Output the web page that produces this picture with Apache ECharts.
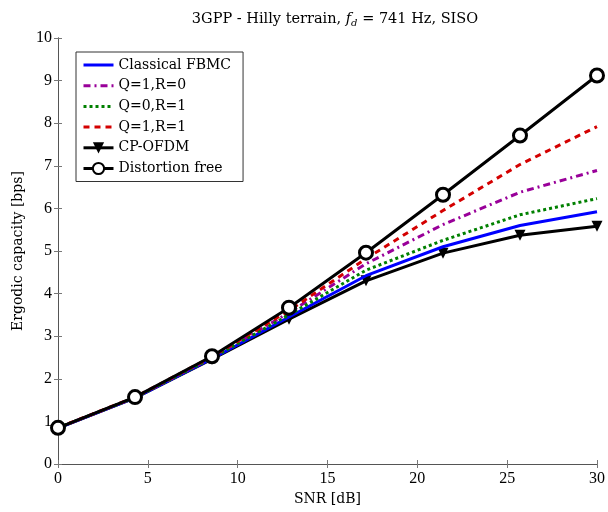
<!DOCTYPE html>
<html>
<head>
<meta charset="utf-8">
<script src="https://cdn.jsdelivr.net/npm/echarts@6/dist/echarts.min.js"></script>
<style>html,body{margin:0;padding:0;background:#fff}#c{width:608px;height:512px}</style>
</head>
<body>
<div id="c"></div>
<script>
var snr = [0, 4.286, 8.571, 12.857, 17.143, 21.429, 25.714, 30];
var fbmc = [0.84, 1.55, 2.47, 3.45, 4.42, 5.10, 5.60, 5.92];
var q1r0 = [0.85, 1.56, 2.50, 3.55, 4.70, 5.62, 6.38, 6.89];
var q0r1 = [0.85, 1.56, 2.49, 3.50, 4.55, 5.25, 5.85, 6.23];
var q1r1 = [0.85, 1.57, 2.52, 3.60, 4.82, 5.95, 7.03, 7.92];
var cpofdm = [0.84, 1.55, 2.46, 3.40, 4.30, 4.95, 5.37, 5.58];
var distFree = [0.85, 1.57, 2.53, 3.67, 4.96, 6.32, 7.71, 9.12];
var names = ['Classical FBMC', 'Q=1,R=0', 'Q=0,R=1', 'Q=1,R=1', 'CP-OFDM', 'Distortion free'];

function pairs(ys) { return snr.map(function (x, i) { return [x, ys[i]]; }); }
var FONT = 'DejaVu Serif';
var NUMFONT = 'Liberation Serif';
var chart = echarts.init(document.getElementById('c'), null, {renderer: 'canvas'});
var axisCommon = {
  axisLine: {show: true, lineStyle: {color: '#555', width: 1}},
  axisTick: {show: true, inside: true, length: 4, lineStyle: {color: '#777'}},
  splitLine: {show: false}
};
var legendData = names.map(function (n, i) {
  return i < 4 ? {name: n, itemStyle: {opacity: 0}, lineStyle: {width: 3}} : {name: n, lineStyle: {width: 3}};
});
chart.setOption({
  animation: false,
  backgroundColor: '#fff',
  title: {
    text: '3GPP - Hilly terrain, {i|f}{s|d} = 741 Hz, SISO',
    left: 330, top: 5, textAlign: 'center',
    textStyle: {fontFamily: FONT, fontSize: 14.5, fontWeight: 'normal', color: '#000',
      rich: {i: {fontFamily: FONT, fontSize: 14.5, fontStyle: 'italic', color: '#000'},
             s: {fontFamily: FONT, fontSize: 10, fontStyle: 'italic', color: '#000', padding: [8, 0, 0, 0]}}}
  },
  grid: {left: 58, right: 7, top: 38, bottom: 48},
  legend: {
    orient: 'vertical', left: 76, top: 52,
    data: legendData,
    itemWidth: 30, itemHeight: 14, itemGap: 6.7,
    padding: [6, 12, 6, 6],
    borderColor: '#333', borderWidth: 1, borderRadius: 0,
    backgroundColor: '#fff',
    textStyle: {fontFamily: FONT, fontSize: 14, color: '#000'}
  },
  xAxis: [
    Object.assign({type: 'value', min: 0, max: 30, interval: 5, position: 'bottom',
      name: 'SNR [dB]', nameLocation: 'middle', nameGap: 26,
      nameTextStyle: {fontFamily: FONT, fontSize: 14, color: '#000'},
      axisLabel: {fontFamily: NUMFONT, fontSize: 16, color: '#000', margin: 7}}, axisCommon),
    Object.assign({type: 'value', min: 0, max: 30, interval: 5, position: 'top',
      axisLabel: {show: false}}, axisCommon)
  ],
  yAxis: [
    Object.assign({type: 'value', min: 0, max: 10, interval: 1, position: 'left',
      name: 'Ergodic capacity [bps]', nameLocation: 'middle', nameGap: 33,
      nameTextStyle: {fontFamily: FONT, fontSize: 14, color: '#000'},
      axisLabel: {fontFamily: NUMFONT, fontSize: 16, color: '#000', margin: 6}}, axisCommon),
    Object.assign({type: 'value', min: 0, max: 10, interval: 1, position: 'right',
      axisLabel: {show: false}}, axisCommon)
  ],
  series: [
    {name: names[0], type: 'line', data: pairs(fbmc), symbol: 'none',
      lineStyle: {color: '#0000ff', width: 3}, itemStyle: {color: '#0000ff'}, z: 3},
    {name: names[1], type: 'line', data: pairs(q1r0), symbol: 'none',
      lineStyle: {color: '#990099', width: 3, type: [7, 4, 2, 4]}, itemStyle: {color: '#990099'}, z: 4},
    {name: names[2], type: 'line', data: pairs(q0r1), symbol: 'none',
      lineStyle: {color: '#008000', width: 3, type: [3, 3]}, itemStyle: {color: '#008000'}, z: 4},
    {name: names[3], type: 'line', data: pairs(q1r1), symbol: 'none',
      lineStyle: {color: '#d40000', width: 3, type: [6, 5]}, itemStyle: {color: '#d40000'}, z: 4},
    {name: names[4], type: 'line', data: pairs(cpofdm), symbol: 'triangle', symbolRotate: 180, symbolSize: 11,
      lineStyle: {color: '#000', width: 3}, itemStyle: {color: '#000', borderWidth: 0}, z: 2},
    {name: names[5], type: 'line', data: pairs(distFree), symbol: 'circle', symbolSize: 13,
      lineStyle: {color: '#000', width: 3}, itemStyle: {color: '#fff', borderColor: '#000', borderWidth: 3}, z: 5}
  ]
});
</script>
</body>
</html>
